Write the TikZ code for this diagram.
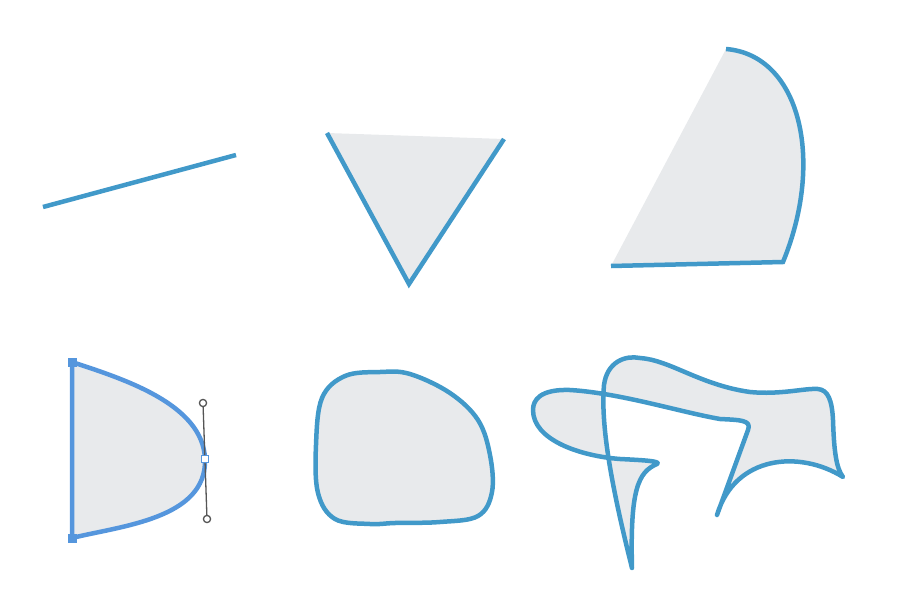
\documentclass[tikz,border=0pt]{standalone}
\usepackage{xcolor}
\definecolor{edgeblue}{HTML}{4199C9}
\definecolor{selblue}{HTML}{5596DD}
\definecolor{areagrey}{HTML}{E8EAEC}
\definecolor{handlegrey}{HTML}{555555}

\begin{document}
\begin{tikzpicture}[x=1pt, y=-1pt,
  outline/.style={edgeblue, line width=4.5pt},
  area/.style={fill=areagrey},
  handle/.style={handlegrey, line width=1.3pt},
  knob/.style={handlegrey, fill=white, line width=1.3pt}]
\useasboundingbox (0,0) rectangle (906,608);
% Straight segment
\draw[outline] (43,207) -- (236,155);
% Triangle, top edge not stroked
\fill[area] (327,133) -- (504,139) -- (409,284) -- cycle;
\draw[outline] (327,133) -- (409,284) -- (504,139);
% Wedge with curved side
\fill[area] (611,266) -- (726,49) .. controls (800,55) and (825,160) .. (783,262) -- cycle;
\draw[outline] (726,49) .. controls (800,55) and (825,160) .. (783,262) -- (611,266);
% Selected path with its handle
\fill[area] (72,362) .. controls (120,378) and (203,403) .. (205,459)
  .. controls (207,519) and (120,526) .. (72,538) -- cycle;
\draw[selblue, line width=4.5pt] (72,362) .. controls (120,378) and (203,403) .. (205,459)
  .. controls (207,519) and (120,526) .. (72,538) -- cycle;
\fill[selblue] (67.5,357.5) rectangle (76.5,366.5);
\fill[selblue] (67.5,533.5) rectangle (76.5,542.5);
\draw[handle] (203,403) -- (207,519);
\draw[knob] (203,403) circle (3.6pt);
\draw[knob] (207,519) circle (3.6pt);
\draw[selblue, fill=white, line width=1.3pt] (201.5,455.5) rectangle (208.5,462.5);
% Rounded blob
\draw[outline, area] plot[smooth cycle, tension=0.6] coordinates
  {(316,445) (322,398) (345,376) (380,372) (410,374) (450,393) (478,420)
   (490,455) (492,492) (478,516) (440,522) (395,523) (370,524) (335,519) (318,493)};
% Self-crossing freeform shape
\draw[outline, area, line join=round] (632,568)
  .. controls (615,500) and (600,430) .. (604,385)
  .. controls (607,362) and (625,355) .. (640,358)
  .. controls (670,360) and (700,385) .. (750,392)
  .. controls (780,395) and (805,388) .. (818,389)
  .. controls (828,390) and (832,400) .. (833,420)
  .. controls (834,450) and (836,468) .. (843,477)
  .. controls (800,450) and (735,455) .. (717,515)
  -- (748,430)
  .. controls (752,420) and (740,420) .. (720,419)
  .. controls (680,412) and (620,393) .. (570,390)
  .. controls (540,389) and (533,400) .. (533,410)
  .. controls (533,440) and (580,456) .. (620,459)
  .. controls (640,460) and (662,461) .. (657,464)
  .. controls (638,472) and (630,490) .. (632,568) -- cycle;
\end{tikzpicture}
\end{document}
